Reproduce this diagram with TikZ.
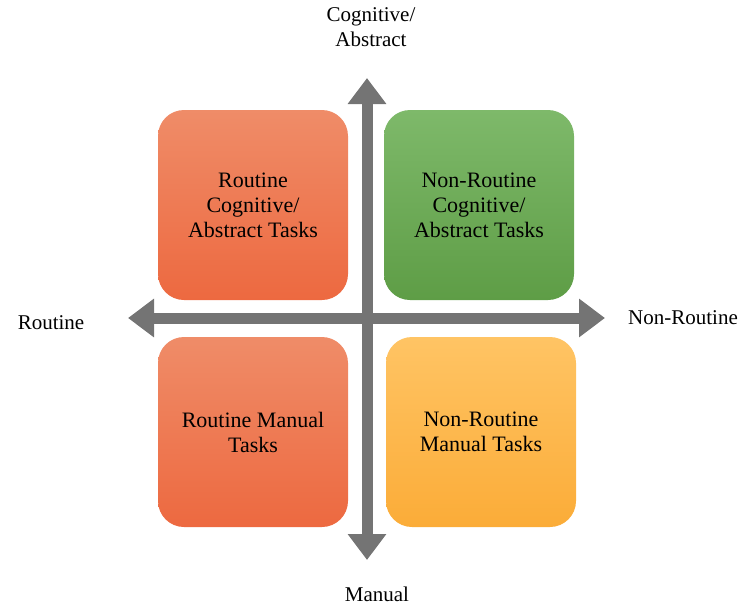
\documentclass[tikz,border=0pt]{standalone}
\usepackage{fontspec}
\setmainfont{Liberation Serif}
\usetikzlibrary{arrows.meta}
\definecolor{axisgray}{HTML}{747474}
\begin{document}
\begin{tikzpicture}[x=1pt,y=-1pt,
  quad/.style={minimum width=190pt,minimum height=190pt,rounded corners=26pt,
    inner sep=0pt,align=center,font=\fontsize{22}{25}\selectfont,text=black},
  axislabel/.style={align=center,font=\fontsize{21}{25}\selectfont,text=black},
  axisarrow/.style={draw=axisgray,line width=11pt,
    {Triangle[width=37pt,length=26pt]}-{Triangle[width=37pt,length=26pt]}}]
\useasboundingbox (0,0) rectangle (740,606);
\coordinate (top) at (367,78);
\coordinate (bot) at (367,560);
\coordinate (lft) at (128,318);
\coordinate (rgt) at (605,318);
\draw[axisarrow] (top) -- (bot);
\draw[axisarrow] (lft) -- (rgt);
\node[quad,top color={rgb,255:red,239;green,140;blue,104},bottom color={rgb,255:red,237;green,105;blue,64}] (rc) at (253,205) {Routine\\Cognitive/\\Abstract Tasks};
\node[quad,top color={rgb,255:red,126;green,185;blue,106},bottom color={rgb,255:red,94;green,157;blue,70}] (nrc) at (479,205) {Non-Routine\\Cognitive/\\Abstract Tasks};
\node[quad,top color={rgb,255:red,239;green,140;blue,104},bottom color={rgb,255:red,237;green,105;blue,64}] (rm) at (253,432) {Routine Manual\\Tasks};
\node[quad,top color={rgb,255:red,255;green,196;blue,100},bottom color={rgb,255:red,251;green,172;blue,56}] (nrm) at (481,432) {Non-Routine\\Manual Tasks};
\node[axislabel] (cog) at (371,27) {Cognitive/\\Abstract};
\node[axislabel] (rt) at (51,323) {Routine};
\node[axislabel] (nrt) at (683,318) {Non-Routine};
\node[axislabel] (man) at (377,594) {Manual};
\end{tikzpicture}
\end{document}
